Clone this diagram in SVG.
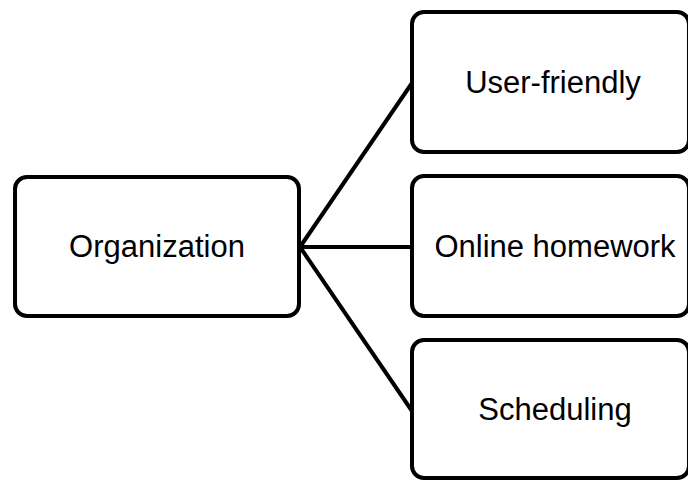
<svg xmlns="http://www.w3.org/2000/svg" width="688" height="481" viewBox="0 0 688 481">
  <style>
    .box { fill: #ffffff; stroke: #000000; stroke-width: 4; }
    .label { font-family: "Liberation Sans", Arial, sans-serif; font-size: 31px; fill: #000000; text-anchor: middle; }
    .link { stroke: #000000; stroke-width: 4; fill: none; }
  </style>
  <rect width="688" height="481" fill="#ffffff"/>
  <g id="connectors">
    <line class="link" x1="300" y1="247" x2="412" y2="83"/>
    <line class="link" x1="300" y1="247" x2="412" y2="247"/>
    <line class="link" x1="300" y1="247" x2="412" y2="411"/>
  </g>
  <g id="node-organization">
    <rect class="box" x="15" y="177" width="284" height="139" rx="12" ry="12"/>
    <text class="label" x="157" y="257">Organization</text>
  </g>
  <g id="node-user-friendly">
    <rect class="box" x="412" y="12" width="277" height="140" rx="12" ry="12"/>
    <text class="label" x="553" y="93">User-friendly</text>
  </g>
  <g id="node-online-homework">
    <rect class="box" x="412" y="176" width="277" height="140" rx="12" ry="12"/>
    <text class="label" x="555" y="257">Online homework</text>
  </g>
  <g id="node-scheduling">
    <rect class="box" x="412" y="340" width="277" height="138" rx="12" ry="12"/>
    <text class="label" x="555" y="420">Scheduling</text>
  </g>
</svg>
